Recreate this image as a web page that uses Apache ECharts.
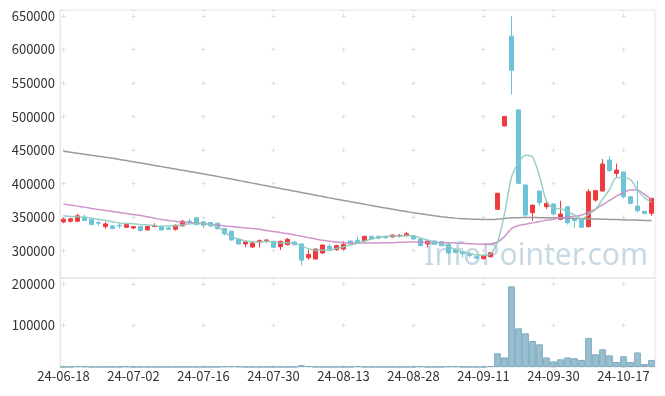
<!DOCTYPE html>
<html>
<head>
<meta charset="utf-8">
<script src="https://cdn.jsdelivr.net/npm/echarts@6/dist/echarts.min.js"></script>
<style>html,body{margin:0;padding:0;background:#fff;}#c{width:665px;height:396px;}</style>
</head>
<body>
<div id="c"></div>
<script>
const dates = ['24-06-18','24-06-19','24-06-20','24-06-21','24-06-24','24-06-25','24-06-26','24-06-27','24-06-28','24-07-01',
'24-07-02','24-07-03','24-07-04','24-07-05','24-07-08','24-07-09','24-07-10','24-07-11','24-07-12','24-07-15',
'24-07-16','24-07-17','24-07-18','24-07-19','24-07-22','24-07-23','24-07-24','24-07-25','24-07-26','24-07-29',
'24-07-30','24-07-31','24-08-01','24-08-02','24-08-05','24-08-06','24-08-07','24-08-08','24-08-09','24-08-12',
'24-08-13','24-08-14','24-08-16','24-08-19','24-08-20','24-08-21','24-08-22','24-08-23','24-08-26','24-08-27',
'24-08-28','24-08-29','24-08-30','24-09-02','24-09-03','24-09-04','24-09-05','24-09-06','24-09-09','24-09-10',
'24-09-11','24-09-12','24-09-13','24-09-19','24-09-20','24-09-23','24-09-24','24-09-25','24-09-26','24-09-27',
'24-09-30','24-10-02','24-10-04','24-10-07','24-10-08','24-10-10','24-10-11','24-10-14','24-10-15','24-10-16',
'24-10-17','24-10-18','24-10-21','24-10-22','24-10-23'];

const opens = [343000,344000,344000,350000,347000,342000,336000,337000,338000,335000,
334000,336000,331000,336000,336000,334000,332000,337000,344000,349000,
343000,342000,341000,333000,329000,317000,310000,305500,313000,315000,
314000,306000,309000,313000,310000,289500,287600,296600,306500,301500,
302500,314500,315500,314500,321500,321500,321000,320500,322000,322300,
322300,317500,310500,314500,313500,309500,301500,299000,294000,291000,
288000,291000,361700,486000,620000,510000,398000,356700,389000,365600,
369700,346800,365600,348000,347500,335800,375600,389000,435300,415300,
417300,380500,366600,358700,355800];
const closes = [347000,347500,352000,345000,339000,341000,340000,333000,337000,339000,
336000,330000,336000,337000,331000,332000,338000,344000,343000,339000,
338000,337000,333000,325000,316000,310000,313000,311500,315000,316000,
305000,314000,317000,309000,286000,294500,302500,308500,302500,307500,
309500,310500,312500,321500,317500,318500,319500,323400,323000,325300,
317500,307500,314500,309500,307500,296600,297600,295500,293000,289000,
293000,297000,385600,500000,569000,400500,353200,368000,371600,370600,
354700,354700,341700,345000,335000,388000,389500,429300,419300,420300,
380500,370700,359600,355800,378000];
const lows = [341000,342000,342500,344000,338000,337000,333000,332000,333000,334000,
332000,329000,330000,335000,330000,331000,330000,336000,339000,338000,
334000,335000,331000,323000,315000,309000,305000,304000,305000,312000,
304000,301000,308000,308000,278000,286500,287000,295500,301000,300000,
301000,308000,311000,313000,316000,317000,318000,319500,320000,321500,
316500,306500,305000,308500,306500,295000,296000,290000,290000,288000,
287000,290000,361000,485500,533000,399000,349800,344700,366600,362000,
353000,345800,339000,334000,334000,335000,373000,388000,418000,410000,
378000,369000,357000,354000,352000];
const highs = [349000,349000,355000,354000,348000,345000,343000,338000,342000,340000,
337000,337000,337000,341000,338000,336000,339000,346000,348000,350000,
344000,343000,342000,334000,330000,319000,315000,313000,317000,317000,
315000,315000,319000,314000,311000,301500,303000,309000,310000,309000,
314000,315000,321000,322000,322000,322500,322000,324000,325000,328000,
324000,318000,315000,315500,314000,312000,302500,300500,298000,292000,
294000,298000,386500,500500,650000,511000,399000,369000,389500,373000,
371000,374500,366000,349000,348500,392000,391000,436700,441000,430000,
418000,381000,404000,359500,379000];
const volumes = [300,400,1800,1500,300,200,300,400,300,1500,
300,200,300,300,200,300,300,400,300,200,
300,300,400,1500,1800,1500,300,300,200,300,
400,300,300,400,4500,2200,400,300,300,300,
300,400,2000,300,300,200,300,300,300,300,
400,1800,300,300,400,1500,1800,400,300,300,
400,2500,33000,23000,194000,93000,81000,62500,54500,23000,
13500,18500,23000,21000,17000,70000,30500,42500,28000,12000,
25700,12000,35000,7000,17000];
const ma5 = [352200,351000,350500,350000,348500,347000,345000,343300,341500,340500,
340300,339000,338300,337500,336400,337000,337300,338300,340300,340500,
340300,339500,335800,328300,320900,317400,314500,313400,313000,314000,
313000,311500,312000,311500,307000,303000,300500,301000,300500,303500,
306000,308500,311000,314500,317500,320000,321500,322000,322000,322500,
322000,319000,316000,313000,310000,306000,302000,298000,296000,293500,
293000,295000,313000,355000,409500,431500,442500,439500,411000,374000,
363300,362500,358500,353300,347300,354300,361500,376500,391300,409300,
409000,406000,390300,379000,372500];
const ma20 = [369500,368000,366500,365000,363000,361500,360000,358500,357000,355500,
354000,352500,350500,348500,346500,345000,344000,342500,341800,341300,
340500,339500,338500,337000,336000,335000,334000,333000,332000,330000,
328500,327000,325500,323500,321500,319500,317500,315500,314000,313000,
312000,311500,311500,311500,311500,311500,312000,312000,312500,313000,
313000,313000,312500,312500,312000,312000,311500,311000,310500,310000,
309500,310000,313000,321000,333000,337500,339500,341500,343500,345500,
347000,349000,350000,351500,353000,357500,362000,368500,375000,381500,
386500,391000,390500,384000,376000];
const maLong = [448500,447000,445500,444000,442500,441000,439500,438000,436200,434400,
432600,430800,429000,427200,425400,423600,421800,420000,418200,416400,
414500,412600,410700,408800,406800,404800,402800,400800,398800,396800,
394800,392800,390800,388800,386800,384800,382800,380800,378800,376900,
375000,373100,371200,369300,367400,365500,363700,361900,360100,358400,
356700,355000,353500,352100,350800,349600,348600,347800,347200,346800,
346500,346500,347000,348000,349000,349300,349400,349400,349300,349200,
349000,348800,348500,348200,347900,347600,347300,347000,346700,346400,
346100,345800,345500,345200,344900];

const priceMin = 259300, priceMax = 659000;
const volMax = 214000;

const candleData = dates.map((d, i) => [opens[i], closes[i], lows[i], highs[i]]);

const chart = echarts.init(document.getElementById('c'), null, {renderer: 'canvas'});
const font = '"Noto Sans CJK KR", "Noto Sans", sans-serif';
const crossColor = '#dedede';

chart.setOption({
  animation: false,
  backgroundColor: '#fff',
  textStyle: {fontFamily: font},
  grid: [
    {left: 60, right: 10, top: 10, height: 268, show: true, borderColor: '#e6e6e6', borderWidth: 1},
    {left: 60, right: 10, top: 278, height: 89, show: true, borderColor: '#e6e6e6', borderWidth: 1}
  ],
  xAxis: [
    {type: 'category', gridIndex: 0, data: dates, boundaryGap: true,
     axisLine: {show: false}, axisTick: {show: false}, axisLabel: {show: false},
     splitLine: {show: true, interval: 9, alignWithLabel: true,
       lineStyle: {color: crossColor, width: 1, type: [4, 29.52], dashOffset: 29.49}}},
    {type: 'category', gridIndex: 1, data: dates, boundaryGap: true,
     axisLine: {show: false}, axisTick: {show: false},
     axisLabel: {show: true, interval: 9, fontSize: 13, color: '#333', margin: 3, fontFamily: font},
     splitLine: {show: true, interval: 9, alignWithLabel: true,
       lineStyle: {color: crossColor, width: 1, type: [4, 37.59], dashOffset: 37.79}}}
  ],
  yAxis: [
    {type: 'value', gridIndex: 0, min: priceMin, max: priceMax, splitNumber: 8, scale: true,
     axisLine: {show: true, lineStyle: {color: '#e6e6e6'}}, axisTick: {show: false},
     axisLabel: {fontSize: 13, color: '#333', margin: 5, fontFamily: font,
       formatter: v => (v % 50000 === 0 ? String(v) : '')},
     splitLine: {show: true, lineStyle: {color: crossColor, width: 1, type: [4, 66], dashOffset: 68.5}}},
    {type: 'value', gridIndex: 1, min: 0, max: volMax, splitNumber: 2,
     axisLine: {show: true, lineStyle: {color: '#e6e6e6'}}, axisTick: {show: false},
     axisLabel: {fontSize: 13, color: '#333', margin: 5, fontFamily: font,
       formatter: v => (v > 0 && v % 100000 === 0 ? String(v) : '')},
     splitLine: {show: true, lineStyle: {color: crossColor, width: 1, type: [4, 66], dashOffset: 68.5}}}
  ],
  graphic: [
    {type: 'text', z: 0, zlevel: 0, silent: true,
     style: {x: 648, y: 256, text: 'InfoPointer.com', textAlign: 'right', textVerticalAlign: 'middle',
       font: '30px "Noto Sans", sans-serif', fill: 'rgba(160,192,212,0.6)'}}
  ],
  series: [
    {type: 'candlestick', xAxisIndex: 0, yAxisIndex: 0, data: candleData, barWidth: 5, z: 3,
     itemStyle: {color: '#ee3b40', color0: '#6cc3d9', borderColor: '#ee3b40', borderColor0: '#6cc3d9', borderWidth: 1}},
    {type: 'line', xAxisIndex: 0, yAxisIndex: 0, data: maLong, symbol: 'none', smooth: 0.2, z: 4,
     lineStyle: {color: '#9b9b9b', width: 1.5}},
    {type: 'line', xAxisIndex: 0, yAxisIndex: 0, data: ma20, symbol: 'none', smooth: 0.3, z: 4,
     lineStyle: {color: '#c98bc6', width: 1.5, opacity: 0.9}},
    {type: 'line', xAxisIndex: 0, yAxisIndex: 0, data: ma5, symbol: 'none', smooth: 0.3, z: 4,
     lineStyle: {color: '#8ecbbd', width: 1.5, opacity: 0.9}},
    {type: 'bar', xAxisIndex: 1, yAxisIndex: 1, data: volumes, barCategoryGap: '4%',
     itemStyle: {color: '#98bfd0', borderColor: '#7eaabf', borderWidth: 1}}
  ]
});
</script>
</body>
</html>
